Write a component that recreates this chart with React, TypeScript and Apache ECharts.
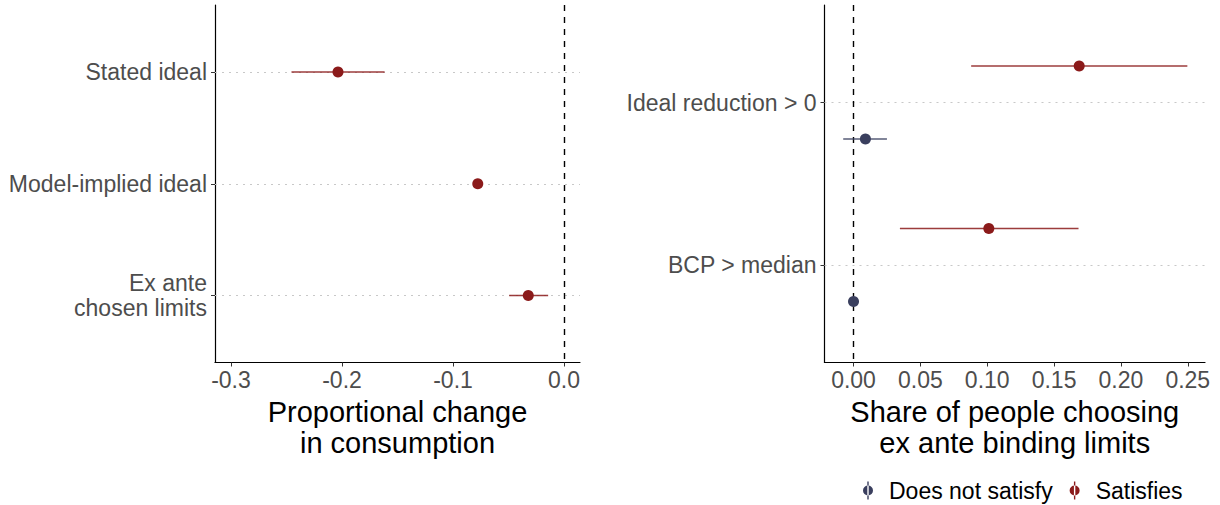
import React, { useEffect, useRef } from "react";
import * as echarts from "echarts";

// ---------- data ----------
const leftCategories = ["Stated ideal", "Model-implied ideal", "Ex ante\nchosen limits"];
const leftEstimate = [-0.2036, -0.0777, -0.0322];
const leftLower = [-0.2455, -0.0787, -0.0494];
const leftUpper = [-0.1616, -0.0767, -0.0143];
const leftTicks = [-0.3, -0.2, -0.1, 0.0];

const rightCategories = ["Ideal reduction > 0", "BCP > median"];
const satisfiesEstimate = [0.1688, 0.1012];
const satisfiesLower = [0.0880, 0.0347];
const satisfiesUpper = [0.2497, 0.1683];
const notSatisfyEstimate = [0.0089, 0.0];
const notSatisfyLower = [-0.0077, 0.0];
const notSatisfyUpper = [0.0250, 0.0];
const rightTicks = [0.0, 0.05, 0.1, 0.15, 0.2, 0.25];
const dodge = 0.225;

const RED = "#8B1A1A";
const BLUE = "#3A3F5E";
const FONT = "Liberation Sans, Arial, Helvetica, sans-serif";

const legendIcon =
  "path://M4.3,0h1.4v18h-1.4z M0,9a5,5 0 1,0 10,0a5,5 0 1,0 -10,0z";

function errorBarSeries(
  name: string,
  lo: number[],
  hi: number[],
  ys: number[],
  color: string,
  axisIndex: number
) {
  return {
    type: "custom",
    name,
    xAxisIndex: axisIndex,
    yAxisIndex: axisIndex,
    z: 6,
    silent: true,
    data: lo.map((l, i) => [l, hi[i], ys[i]]),
    encode: { x: [0, 1], y: 2 },
    renderItem: (params: any, api: any) => {
      const p1 = api.coord([api.value(0), api.value(2)]);
      const p2 = api.coord([api.value(1), api.value(2)]);
      return {
        type: "line",
        shape: { x1: p1[0], y1: p1[1], x2: p2[0], y2: p2[1] },
        style: { stroke: color, lineWidth: 1.6, opacity: 0.85 },
      };
    },
  };
}

function yAxisFor(cats: string[], gridIndex: number, min: number, max: number) {
  const idx = cats.map((_, i) => i);
  return {
    type: "value",
    gridIndex,
    inverse: true,
    min,
    max,
    axisLine: { show: true, onZero: false, lineStyle: { color: "#000", width: 1.2 } },
    axisTick: { show: true, length: 4, customValues: idx, lineStyle: { color: "#333", width: 1 } },
    splitLine: { show: false },
    axisLabel: {
      customValues: idx,
      formatter: (v: number) => cats[Math.round(v)] ?? "",
      color: "#4D4D4D",
      fontSize: 23,
      fontFamily: FONT,
      lineHeight: 25,
      margin: 8,
      align: "right",
    },
  };
}

function xAxisFor(
  gridIndex: number,
  min: number,
  max: number,
  ticks: number[],
  digits: number,
  name: string
) {
  return {
    type: "value",
    gridIndex,
    min,
    max,
    name,
    nameLocation: "middle",
    nameGap: 23,
    nameTextStyle: { color: "#000", fontSize: 29, fontFamily: FONT, lineHeight: 31 },
    axisLine: { show: true, onZero: false, lineStyle: { color: "#000", width: 1.2 } },
    axisTick: { show: true, length: 4, customValues: ticks, lineStyle: { color: "#333", width: 1 } },
    splitLine: { show: false },
    axisLabel: {
      customValues: ticks,
      formatter: (v: number) => v.toFixed(digits),
      color: "#4D4D4D",
      fontSize: 23,
      fontFamily: FONT,
      margin: 6,
    },
  };
}

function guideSeries(axisIndex: number, cats: string[]) {
  return {
    type: "scatter",
    xAxisIndex: axisIndex,
    yAxisIndex: axisIndex,
    data: [],
    silent: true,
    z: 1,
    markLine: {
      silent: true,
      z: 1,
      symbol: ["none", "none"],
      label: { show: false },
      animation: false,
      data: [
        ...cats.map((_, i) => ({
          yAxis: i,
          lineStyle: { color: "#C8C8C8", type: [2, 5], width: 1.2 },
        })),
        {
          xAxis: 0,
          lineStyle: { color: "#000", type: [6, 6], width: 1.4 },
        },
      ],
    },
  };
}

export default function App() {
  const ref = useRef<HTMLDivElement>(null);
  useEffect(() => {
    if (!ref.current) return;
    const chart = echarts.init(ref.current, undefined, { renderer: "svg" });
    const leftY = leftCategories.map((_, i) => i);
    const satY = rightCategories.map((_, i) => i - dodge);
    const notY = rightCategories.map((_, i) => i + dodge);

    chart.setOption({
      animation: false,
      backgroundColor: "#fff",
      textStyle: { fontFamily: FONT },
      grid: [
        { left: 215, top: 5, width: 365, height: 357.5, containLabel: false },
        { left: 824.5, top: 5, width: 380.5, height: 357.5, containLabel: false },
      ],
      xAxis: [
        xAxisFor(0, -0.3144, 0.0144, leftTicks, 1, "Proportional change\nin consumption"),
        xAxisFor(1, -0.0217, 0.2629, rightTicks, 2, "Share of people choosing\nex ante binding limits"),
      ],
      yAxis: [
        yAxisFor(leftCategories, 0, -0.6, 2.6),
        yAxisFor(rightCategories, 1, -0.6, 1.6),
      ],
      legend: {
        left: 858,
        top: 474,
        itemWidth: 20,
        itemHeight: 18,
        itemGap: 17,
        textStyle: { color: "#000", fontSize: 23, fontFamily: FONT, padding: [0, 0, 0, 6] },
        data: [
          { name: "Does not satisfy", icon: legendIcon, itemStyle: { color: BLUE } },
          { name: "Satisfies", icon: legendIcon, itemStyle: { color: RED } },
        ],
      },
      series: [
        guideSeries(0, leftCategories),
        guideSeries(1, rightCategories),
        errorBarSeries("leftbars", leftLower, leftUpper, leftY, RED, 0),
        {
          type: "scatter",
          name: "Satisfies",
          xAxisIndex: 0,
          yAxisIndex: 0,
          symbol: "circle",
          symbolSize: 11,
          z: 7,
          itemStyle: { color: RED, opacity: 1 },
          data: leftEstimate.map((v, i) => [v, leftY[i]]),
        },
        errorBarSeries("satbars", satisfiesLower, satisfiesUpper, satY, RED, 1),
        errorBarSeries("notbars", notSatisfyLower, notSatisfyUpper, notY, BLUE, 1),
        {
          type: "scatter",
          name: "Satisfies",
          xAxisIndex: 1,
          yAxisIndex: 1,
          symbol: "circle",
          symbolSize: 11,
          z: 7,
          itemStyle: { color: RED, opacity: 1 },
          data: satisfiesEstimate.map((v, i) => [v, satY[i]]),
        },
        {
          type: "scatter",
          name: "Does not satisfy",
          xAxisIndex: 1,
          yAxisIndex: 1,
          symbol: "circle",
          symbolSize: 11,
          z: 7,
          itemStyle: { color: BLUE, opacity: 1 },
          data: notSatisfyEstimate.map((v, i) => [v, notY[i]]),
        },
      ],
    });
    return () => chart.dispose();
  }, []);

  return (
    <div
      ref={ref}
      style={{ position: "fixed", left: 0, top: 0, width: 1220, height: 505 }}
    />
  );
}
